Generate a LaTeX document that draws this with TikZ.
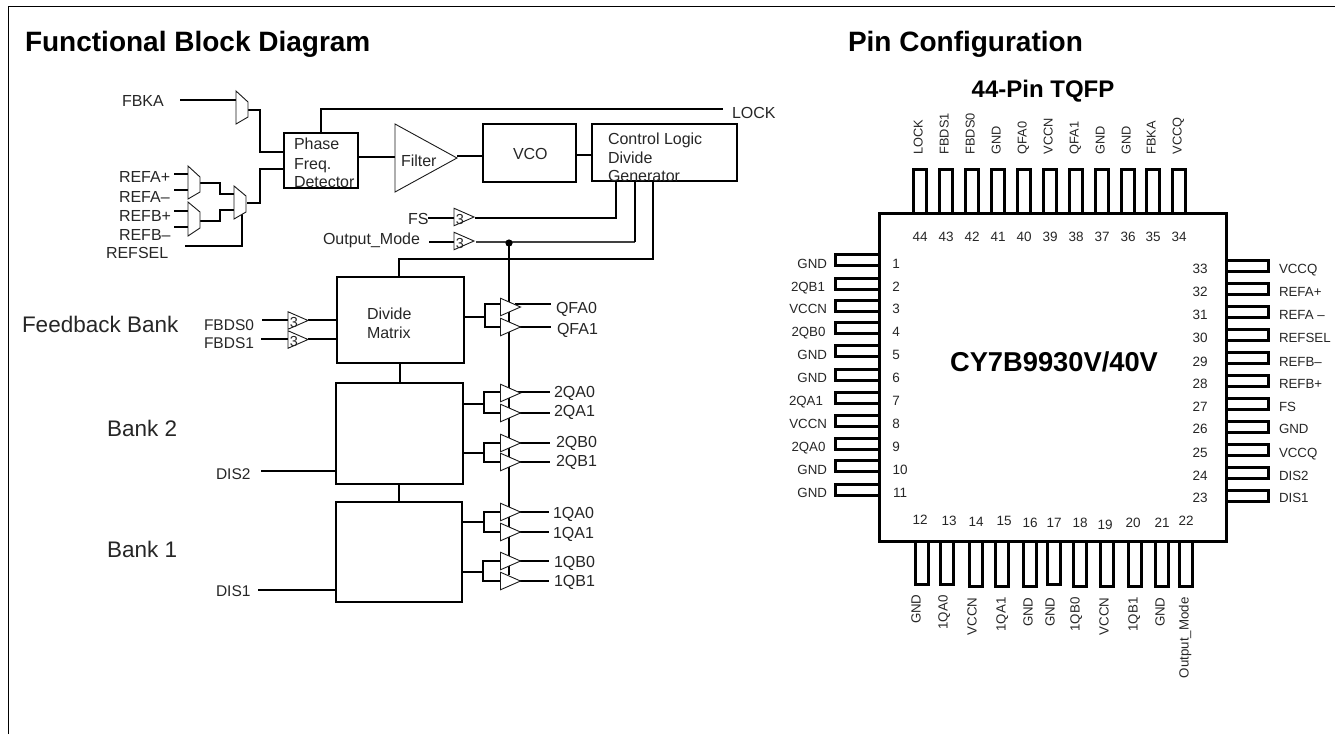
\documentclass[tikz,border=0pt]{standalone}
\usepackage{fontspec}
\setmainfont{Liberation Sans}
\usetikzlibrary{shapes.geometric,calc}
\tikzset{
 x=1pt,y=-1pt,
 lbl/.style={inner sep=0,outer sep=0,anchor=mid west,yshift=-3.5pt,font=\fontsize{16}{18}\selectfont,text=black!85},
 smlbl/.style={lbl,font=\fontsize{15.5}{17}\selectfont},
 biglbl/.style={lbl,yshift=-2.4pt,font=\fontsize{22.5}{24}\selectfont},
 blockbox/.style={draw=black,line width=2pt,fill=none,inner sep=0,outer sep=0},
 wire/.style={line width=2pt,line join=miter},
 buf/.style={isosceles triangle,isosceles triangle stretches,shape border rotate=0,draw=black!90,line width=.9pt,fill=white,minimum width=17.5pt,minimum height=20pt,inner sep=0,outer sep=0,anchor=lower side},
 mux/.style={draw=black!90,line width=.9pt,fill=white},
 pinbox/.style={line width=3pt,draw=black,fill=none},
 pinname/.style={inner sep=0,outer sep=0,font=\fontsize{13.3}{15}\selectfont,text=black!85},
 pintop/.style={pinname,font=\fontsize{12.8}{15}\selectfont},
 pinnum/.style={inner sep=0,outer sep=0,anchor=mid,yshift=-2.7pt,font=\fontsize{13.5}{15}\selectfont,text=black!85},
 title/.style={inner sep=0,outer sep=0,anchor=mid west,yshift=-7.9pt,font=\bfseries\fontsize{28}{30}\selectfont},
}
\newcommand{\bufthree}[3]{\node[buf] (#1) at (#2,#3) {};\node[inner sep=0,font=\fontsize{14.5}{16}\selectfont,text=black!85] (#1t) at (#2+6,#3+2.5) {3};}
\begin{document}
\begin{tikzpicture}
\useasboundingbox (0,0) rectangle (1335,734);
% frame
\draw[line width=1.3pt,black] (8.3,734) -- (8.3,6.3) -- (1335,6.3);
% titles
\node[title] (t1) at (25,41) {Functional Block Diagram};
\node[title] (t2) at (848,41) {Pin Configuration};
\node[inner sep=0,font=\bfseries\fontsize{24}{26}\selectfont] (t3) at (1043,91) {44-Pin TQFP};
% ---- blocks
\node[blockbox,minimum width=74pt,minimum height=55pt] (pfd) at (321,160.5) {};
\node[blockbox,minimum width=93pt,minimum height=58pt] (vco) at (529.5,153) {};
\node[blockbox,minimum width=145pt,minimum height=57pt] (ctl) at (664.5,152.5) {};
\node[blockbox,minimum width=127pt,minimum height=86pt] (dm) at (400.5,320) {};
\node[blockbox,minimum width=127pt,minimum height=101pt] (b2) at (399.5,433.5) {};
\node[blockbox,minimum width=126pt,minimum height=100pt] (b1) at (399,552) {};
% block text
\foreach \n/\t/\y in {pa/Phase/143,pb/Freq./163,pc/Detector/181}{\node[lbl] (\n) at (294,\y) {\t};}
\node[lbl] (vcot) at (513,153) {VCO};
\foreach \n/\t/\y in {ca/Control Logic/138,cb/Divide/157,cc/Generator/175}{\node[lbl] (\n) at (608,\y) {\t};}
\node[lbl] (da) at (367,313) {Divide};
\node[lbl] (db) at (367,332) {Matrix};
% labels
\node[lbl] (lfbka) at (122,100) {FBKA};
\node[lbl] (lrap) at (119,176) {REFA+};
\node[lbl] (lram) at (119,196) {REFA–};
\node[lbl] (lrbp) at (119,215) {REFB+};
\node[lbl] (lrbm) at (119,234) {REFB–};
\node[lbl] (lrs) at (106,252) {REFSEL};
\node[lbl] (llock) at (732,112) {LOCK};
\node[lbl] (lfs) at (408,218) {FS};
\node[lbl] (lom) at (323,238) {Output\_Mode};
\node[smlbl] (lf0) at (204,324) {FBDS0};
\node[smlbl] (lf1) at (204,342) {FBDS1};
\node[biglbl] (lfb) at (22,323.5) {Feedback Bank};
\node[biglbl] (lb2) at (107,428) {Bank 2};
\node[biglbl] (lb1) at (107,549) {Bank 1};
\node[smlbl] (ld2) at (216,473) {DIS2};
\node[smlbl] (ld1) at (216,590) {DIS1};
% free wire ends
\coordinate (efb) at (180,100);
\coordinate (elock) at (723,109);
% wires
\draw[wire] (efb) -- (236,100);
\draw[wire] (248,110) -- (260,110) |- (pfd.west |- 0,152);
\draw[wire] (247,203) -- (260,203) |- (pfd.west |- 0,169);
\draw[wire] (174,174) -- (188,174);
\draw[wire] (174,190) -- (188,190);
\draw[wire] (174,211) -- (188,211);
\draw[wire] (174,227) -- (188,227);
\draw[wire] (200,183) -| (220,194) -- (234,194);
\draw[wire] (200,221) -| (220,210) -- (234,210);
\draw[wire] (185,246) -| (242,214);
\draw[wire] (pfd.north -| 320.5,0) |- (elock);
\draw[wire] (pfd.east |- 0,157) -- (395,157);
\draw[wire] (457,156) -- (vco.west |- 0,156);
\draw[wire] (vco.east |- 0,155) -- (ctl.west |- 0,155);
\draw[wire] (428,218) -- (454,218);
\draw[wire] (429,242) -- (454,242);
\draw[wire] (475,218) -| (ctl.south -| 616,0);
\draw[line width=1.1pt,black!75] (476,242) -- (635,242);
\draw[wire] (635,242) -- (ctl.south -| 635,0);
\draw[wire] (dm.north -| 399,0) |- (653,259) -- (ctl.south -| 653,0);
\draw[wire] (dm.south -| 400,0) -- (b2.north -| 400,0);
\draw[wire] (b2.south -| 399,0) -- (b1.north -| 399,0);
% bus
\draw[wire] (509,243) -- (509,575);
\fill[black] (509,243) circle (3.6);
% feedback wires
\draw[wire] (262,320) -- (288,320); \draw[wire] (261,339) -- (288,339);
\draw[wire] (308,320) -- (dm.west |- 0,320);
\draw[wire] (308,339) -- (dm.west |- 0,339);
% DIS
\draw[wire] (261,471) -- (b2.west |- 0,471);
\draw[wire] (258,590) -- (b1.west |- 0,590);
% forks
\foreach \bx/\xf/\ys/\ya/\yb/\xo in {dm/485/317/304/327/551,b2/484/404/392/413/550,b2/484/453/443/462/550,b1/484/522/512/532/549,b1/483/572/561/581/549}{
 \draw[wire] (\bx.east |- 0,\ys) -- (\xf,\ys);
 \draw[wire] (500,\ya) -- (\xf,\ya) -- (\xf,\yb) -- (500,\yb);
 \draw[wire] (515,\ya) -- (\xo,\ya);
 \draw[wire] (515,\yb) -- (\xo,\yb);
}
% buffers
\foreach \n/\y in {qfa/307,qfb/327,qaa/393,qab/413,qba/443,qbb/462,raa/512,rab/532,rba/561,rbb/581}{\node[buf] (\n) at (500.5,\y) {};}
\foreach \n/\t/\x/\y in {oa/QFA0/556/307,ob/QFA1/557/328,oc/2QA0/554/391,od/2QA1/554/410,oe/2QB0/556/441,of/2QB1/556/460,og/1QA0/553/512,oh/1QA1/553/532,oi/1QB0/554/561,oj/1QB1/554/580}{\node[lbl] (\n) at (\x,\y) {\t};}
\bufthree{bfs}{454}{217}
\bufthree{bom}{454}{241}
\bufthree{bf0}{288}{320.5}
\bufthree{bf1}{288}{339.5}
% filter
\node[isosceles triangle,isosceles triangle stretches,draw=black!90,line width=.9pt,minimum width=68pt,minimum height=62pt,inner sep=0,outer sep=0,anchor=lower side,shape border rotate=0] (flt) at (395,158) {};
\node[lbl] (fltt) at (401,160) {Filter};
% muxes
\draw[mux] (236,91) -- (248,102) -- (248,117) -- (236,124) -- cycle;
\draw[mux] (188,166) -- (200,177) -- (200,192) -- (188,199) -- cycle;
\draw[mux] (188,202) -- (200,212) -- (200,228) -- (188,236) -- cycle;
\draw[mux] (234,186) -- (246,196) -- (246,212) -- (234,219) -- cycle;
% ---- chip
\node[blockbox,line width=3pt,minimum width=347pt,minimum height=328pt] (chip) at (1052.5,377.6) {};
\node[inner sep=0,font=\bfseries\fontsize{27.3}{29}\selectfont] (chipt) at (1054,362) {CY7B9930V/40V};
% top pins
\foreach \i/\x/\nm/\num in {0/920/LOCK/44,1/946/FBDS1/43,2/972/FBDS0/42,3/998/GND/41,4/1024/QFA0/40,5/1050/VCCN/39,6/1076/QFA1/38,7/1102/GND/37,8/1128/GND/36,9/1153/FBKA/35,10/1179/VCCQ/34}{
 \draw[pinbox] (\x-6.5,213.5) -- (\x-6.5,169.5) -- (\x+6.5,169.5) -- (\x+6.5,213.5);
 \node[pintop,rotate=90,anchor=mid west,xshift=2.6pt] (tn\num) at (\x,157) {\nm};
 \node[pinnum] (tp\num) at (\x,236) {\num};
}
% left pins
\foreach \i/\nm/\y/\yp/\xl/\xn in {1/GND/263/260/827/896,2/2QB1/286/284/825/896,3/VCCN/308/306/827/896,4/2QB0/331/328/825.5/896,5/GND/354/351/827/896,6/GND/377/375/827/896,7/2QA1/400/398/823/896,8/VCCN/423/421/827/896,9/2QA0/446/444/825.5/896,10/GND/469/466/827/900,11/GND/492/490/827/900}{
 \draw[pinbox] (879,\yp-5.5) -- (835,\yp-5.5) -- (835,\yp+5.5) -- (879,\yp+5.5);
 \node[pinname,anchor=mid east,yshift=-2.6pt] (ln\i) at (\xl,\y) {\nm};
 \node[pinnum] (lp\i) at (\xn,\y) {\i};
}
% right pins
\foreach \i/\nm/\y/\yp in {33/VCCQ/268/266,32/REFA+/291/289,31/REFA –/314/312,30/REFSEL/337/335,29/REFB–/361/358,28/REFB+/383/381,27/FS/406/404,26/GND/428/427,25/VCCQ/452/450,24/DIS2/475/473,23/DIS1/497/496}{
 \draw[pinbox] (1226,\yp-5.5) -- (1268.5,\yp-5.5) -- (1268.5,\yp+5.5) -- (1226,\yp+5.5);
 \node[pinname,anchor=mid west,yshift=-2.6pt] (rn\i) at (1279,\y) {\nm};
 \node[pinnum] (rp\i) at (1200,\y) {\i};
}
% bottom pins
\foreach \num/\x/\ny/\nx/\yb in {12/922/519/920/584.5,13/946.5/520/949/584.5,14/976/521/976/586,15/1002/520/1004/586.5,16/1029.5/522/1030/586.5,17/1054/522/1054/584.5,18/1080/522/1080/586.5,19/1107/524/1105/586.5,20/1135/522/1133/586.5,21/1162/522/1162/586.5,22/1186/520/1186/586.5}{
 \draw[pinbox] (\x-6.5,541.6) -- (\x-6.5,\yb) -- (\x+6.5,\yb) -- (\x+6.5,541.6);
 \node[pinnum] (bp\num) at (\nx,\ny) {\num};
}
\foreach \num/\x/\nm/\ly in {12/918/GND/597,13/945/1QA0/598,14/974/VCCN/600,15/1003/1QA1/600,16/1030/GND/600,17/1052/GND/600,18/1077/1QB0/600,19/1106/VCCN/600,20/1135/1QB1/600,21/1162/GND/600,22/1186/Output\_Mode/600}{
 \node[pinname,rotate=90,anchor=mid east,xshift=2.6pt] (bn\num) at (\x,\ly) {\nm};
}
\end{tikzpicture}
\end{document}
